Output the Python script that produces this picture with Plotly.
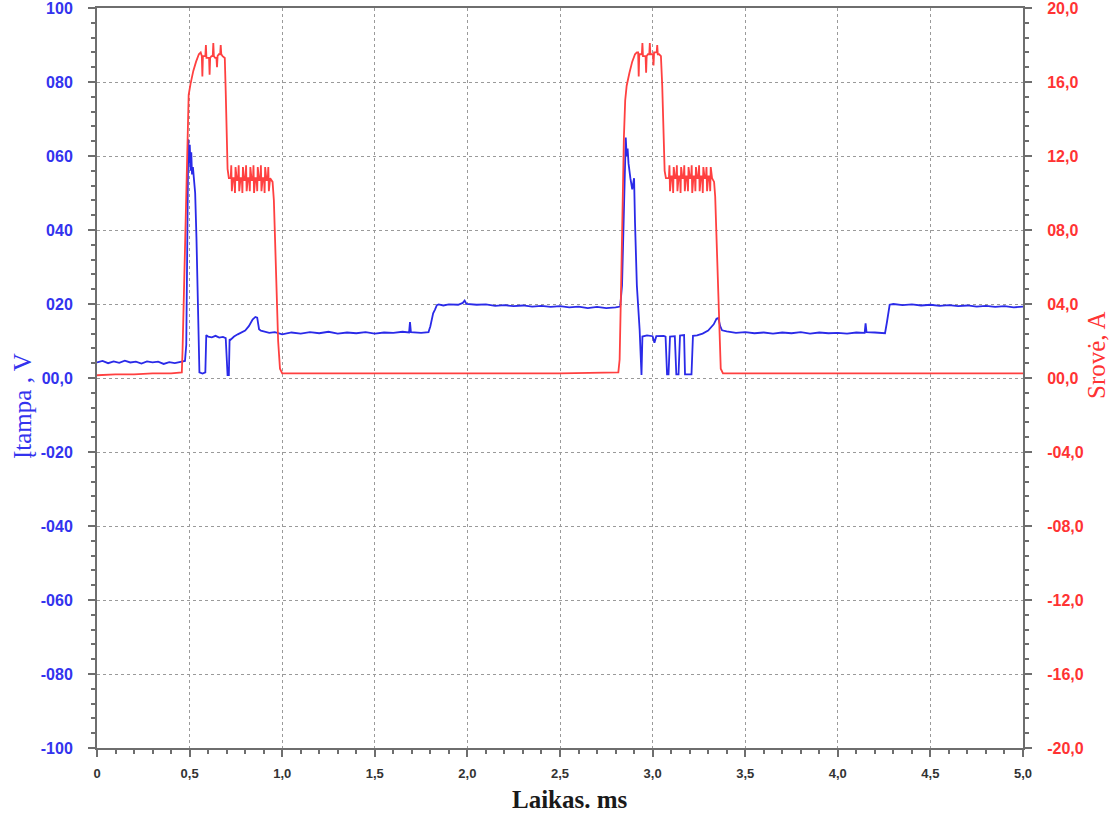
import plotly.graph_objects as go

# ---------------- data ----------------
volt_t = [0.00, 0.03, 0.06, 0.09, 0.12, 0.15, 0.18, 0.21, 0.24, 0.27, 0.30, 0.33, 0.36, 0.39, 0.42, 0.45, 0.475,
          0.482, 0.488, 0.493, 0.497, 0.501, 0.505, 0.509, 0.513, 0.518, 0.523, 0.53, 0.537, 0.543, 0.549, 0.553,
          0.57, 0.585, 0.59, 0.60, 0.62, 0.64, 0.66, 0.68, 0.695, 0.70, 0.705, 0.712, 0.716, 0.72, 0.74, 0.76,
          0.78, 0.80, 0.82, 0.84, 0.855, 0.865, 0.875, 0.885, 0.90, 0.93, 0.96, 1.00, 1.05, 1.10, 1.15, 1.20,
          1.25, 1.30, 1.35, 1.40, 1.45, 1.50, 1.55, 1.60, 1.65, 1.685, 1.69, 1.695, 1.75, 1.79, 1.80, 1.815,
          1.825, 1.835, 1.845, 1.87, 1.90, 1.95, 1.975, 1.985, 1.995, 2.05, 2.10, 2.15, 2.20, 2.25, 2.30, 2.35,
          2.40, 2.45, 2.50, 2.55, 2.60, 2.65, 2.70, 2.75, 2.80, 2.825, 2.835, 2.845, 2.855, 2.86, 2.865, 2.87,
          2.875, 2.88, 2.89, 2.90, 2.905, 2.915, 2.93, 2.935, 2.94, 2.945, 2.97, 3.00, 3.01, 3.02, 3.06, 3.07,
          3.078, 3.086, 3.094, 3.12, 3.128, 3.14, 3.148, 3.17, 3.175, 3.21, 3.218, 3.24, 3.27, 3.30, 3.33,
          3.345, 3.355, 3.365, 3.375, 3.40, 3.45, 3.50, 3.55, 3.60, 3.65, 3.70, 3.75, 3.80, 3.85, 3.90, 3.95,
          4.00, 4.05, 4.10, 4.145, 4.15, 4.155, 4.20, 4.255, 4.265, 4.28, 4.30, 4.35, 4.40, 4.45, 4.50, 4.55,
          4.60, 4.65, 4.70, 4.75, 4.80, 4.85, 4.90, 4.95, 5.00]
volt_v = [4.2, 4.6, 4.0, 4.5, 4.1, 4.7, 4.2, 4.4, 3.9, 4.5, 4.2, 4.4, 3.8, 4.3, 4.0, 4.4, 4.6,
          9.0, 35.0, 64.5, 58.0, 63.0, 56.0, 61.0, 55.0, 57.0, 54.0, 50.0, 38.0, 22.0, 8.0, 1.5,
          1.2, 1.5, 11.6, 11.2, 11.0, 11.4, 10.9, 11.1, 10.8, 6.0, 0.8, 0.8, 10.5, 10.3, 11.2, 11.8,
          12.2, 12.8, 14.0, 15.8, 16.5, 16.3, 13.2, 12.8, 12.6, 12.2, 12.4, 11.8, 12.3, 12.0, 12.4, 12.1,
          12.5, 12.0, 12.3, 12.1, 12.4, 12.0, 12.3, 12.2, 12.5, 12.3, 15.1, 12.4, 12.2, 12.4, 14.0, 17.5,
          18.5, 19.7, 19.9, 19.6, 19.9, 19.8, 20.3, 20.9, 20.0, 19.8, 19.9, 19.5, 19.7, 19.4, 19.6, 19.3,
          19.5, 19.2, 19.4, 19.1, 19.3, 18.9, 19.2, 18.9, 19.1, 19.3, 25.0, 45.0, 65.0, 60.0, 62.0, 58.0,
          55.0, 54.0, 51.0, 54.0, 42.0, 25.0, 13.0, 4.0, 0.8, 11.2, 11.5, 11.3, 9.5, 11.3, 11.4, 11.2,
          1.0, 1.0, 11.2, 11.3, 1.0, 1.0, 11.5, 11.6, 1.0, 1.0, 11.4, 11.5, 12.0, 12.8, 14.5,
          16.0, 16.2, 14.0, 12.9, 12.6, 12.2, 12.4, 12.1, 12.3, 12.0, 12.3, 12.1, 12.4, 12.0, 12.3, 12.1,
          12.2, 12.0, 12.3, 12.2, 14.8, 12.4, 12.3, 12.1, 15.0, 19.8, 20.0, 19.7, 19.9, 19.6, 19.8, 19.5,
          19.7, 19.4, 19.6, 19.3, 19.5, 19.2, 19.4, 19.1, 19.3]

curr_t = [0.00, 0.10, 0.20, 0.30, 0.40, 0.458, 0.462, 0.470, 0.478, 0.485, 0.490, 0.495, 0.505, 0.52, 0.535,
          0.55, 0.56, 0.566, 0.569, 0.572, 0.578, 0.585, 0.588, 0.591, 0.598, 0.605, 0.608, 0.611, 0.618,
          0.625, 0.628, 0.631, 0.638, 0.645, 0.648, 0.651, 0.658, 0.665, 0.668, 0.671, 0.678, 0.69, 0.695,
          0.70, 0.705, 0.712, 0.722, 0.725, 0.728, 0.735, 0.742, 0.745, 0.748, 0.755, 0.762, 0.765, 0.768,
          0.775, 0.782, 0.785, 0.788, 0.795, 0.802, 0.805, 0.808, 0.815, 0.822, 0.825, 0.828, 0.835, 0.842,
          0.845, 0.848, 0.855, 0.862, 0.865, 0.868, 0.875, 0.882, 0.885, 0.888, 0.895, 0.902, 0.905, 0.908,
          0.915, 0.922, 0.925, 0.928, 0.935, 0.942, 0.948, 0.955, 0.962, 0.97, 0.978, 0.988, 1.00, 1.50,
          2.00, 2.50, 2.815,
          2.822, 2.83, 2.838, 2.845, 2.852, 2.86, 2.875, 2.89, 2.905, 2.915, 2.922, 2.925, 2.928, 2.935,
          2.942, 2.945, 2.948, 2.955, 2.962, 2.965, 2.968, 2.975, 2.982, 2.985, 2.988, 2.995, 3.002, 3.005,
          3.008, 3.015, 3.022, 3.025, 3.028, 3.035, 3.045, 3.052, 3.058, 3.065, 3.072, 3.08, 3.088, 3.091,
          3.094, 3.101, 3.108, 3.111, 3.114, 3.121, 3.128, 3.131, 3.134, 3.141, 3.148, 3.151, 3.154, 3.161,
          3.168, 3.171, 3.174, 3.181, 3.188, 3.191, 3.194, 3.201, 3.208, 3.211, 3.214, 3.221, 3.228, 3.231,
          3.234, 3.241, 3.248, 3.251, 3.254, 3.261, 3.268, 3.271, 3.274, 3.281, 3.288, 3.291, 3.294, 3.301,
          3.308, 3.311, 3.314, 3.321, 3.328, 3.332, 3.338, 3.345, 3.352, 3.36, 3.368, 3.38, 4.00, 5.00]
curr_a = [0.15, 0.2, 0.2, 0.25, 0.25, 0.3, 1.5, 5.0, 9.0, 12.5, 14.5, 15.3, 15.9, 16.6, 17.1,
          17.5, 17.6, 17.4, 16.3, 17.4, 17.4, 17.4, 18.0, 17.3, 17.3, 17.3, 16.4, 17.3, 17.4,
          17.4, 18.1, 17.4, 17.3, 17.3, 16.8, 17.4, 17.5, 17.5, 18.0, 17.5, 17.4, 17.3, 15.5,
          13.0, 11.3, 10.8, 10.8, 11.5, 10.1, 10.8, 10.8, 10.0, 11.4, 10.7, 10.7, 11.5, 10.1,
          10.8, 10.8, 10.0, 11.4, 10.7, 10.7, 11.5, 10.1, 10.8, 10.8, 10.1, 11.4, 10.7, 10.7,
          11.5, 10.0, 10.8, 10.8, 10.1, 11.4, 10.7, 10.7, 11.5, 10.1, 10.8, 10.8, 10.0, 11.4,
          10.7, 10.7, 11.4, 10.1, 10.8, 10.7, 10.6, 9.6, 7.5, 4.5, 2.0, 0.5, 0.25, 0.25,
          0.25, 0.25, 0.3,
          1.0, 5.0, 9.5, 13.0, 15.0, 15.8, 16.5, 17.1, 17.5, 17.6, 17.6, 16.3, 17.5, 17.5,
          17.5, 18.1, 17.4, 17.4, 17.4, 16.5, 17.4, 17.5, 17.5, 18.1, 17.5, 17.5, 17.5, 16.9,
          17.6, 17.6, 17.6, 18.0, 17.5, 17.5, 17.4, 15.8, 13.0, 11.2, 10.8, 10.8, 10.8, 11.5,
          10.1, 10.9, 10.9, 10.0, 11.4, 10.8, 10.8, 11.5, 10.1, 10.9, 10.9, 10.0, 11.4, 10.8,
          10.8, 11.5, 10.1, 10.9, 10.9, 10.1, 11.4, 10.8, 10.8, 11.5, 10.0, 10.9, 10.9, 10.1,
          11.4, 10.8, 10.8, 11.5, 10.1, 10.9, 10.9, 10.0, 11.4, 10.8, 10.8, 11.4, 10.1, 10.9,
          10.9, 10.1, 11.4, 10.8, 10.7, 10.6, 9.8, 7.5, 4.5, 2.0, 0.5, 0.25, 0.25, 0.25]

x_ticks = [0, 0.5, 1.0, 1.5, 2.0, 2.5, 3.0, 3.5, 4.0, 4.5, 5.0]
x_labels = ["0", "0,5", "1,0", "1,5", "2,0", "2,5", "3,0", "3,5", "4,0", "4,5", "5,0"]
v_ticks = [100, 80, 60, 40, 20, 0, -20, -40, -60, -80, -100]
v_labels = ["100", "080", "060", "040", "020", "00,0", "-020", "-040", "-060", "-080", "-100"]
a_ticks = [20, 16, 12, 8, 4, 0, -4, -8, -12, -16, -20]
a_labels = ["20,0", "16,0", "12,0", "08,0", "04,0", "00,0", "-04,0", "-08,0", "-12,0", "-16,0", "-20,0"]

BLUE = "#2a2ae8"
RED = "#ff4040"
AXIS = "#6e6e6e"
GRID = "#9a9a9a"

fig = go.Figure()
fig.add_trace(go.Scatter(x=curr_t, y=curr_a, mode="lines", yaxis="y2",
                         line=dict(color=RED, width=1.8), showlegend=False))
fig.add_trace(go.Scatter(x=volt_t, y=volt_v, mode="lines", yaxis="y",
                         line=dict(color=BLUE, width=1.8), showlegend=False))

fig.update_layout(
    width=1112, height=814,
    margin=dict(l=97, r=89, t=8, b=66),
    paper_bgcolor="white", plot_bgcolor="white",
    xaxis=dict(range=[0, 5], tickmode="array", tickvals=x_ticks, automargin=False,
               ticktext=["<b>%s</b>" % s for s in x_labels], ticklabeloverflow="allow",
               tickfont=dict(family="Liberation Sans, Arial", size=13, color="#333333"),
               showline=True, linecolor=AXIS, linewidth=2, mirror=True,
               ticks="outside", ticklen=7, tickcolor=AXIS, tickwidth=1.5,
               ticklabelstandoff=5,
               minor=dict(tickmode="linear", tick0=0, dtick=0.1, ticks="outside", ticklen=4,
                          tickcolor=AXIS, showgrid=False),
               showgrid=True, gridcolor=GRID, griddash="dot", gridwidth=1, zeroline=False),
    yaxis=dict(range=[-100, 100], tickmode="array", tickvals=v_ticks, automargin=False,
               ticktext=["<b>%s</b>" % s for s in v_labels], ticklabeloverflow="allow",
               tickfont=dict(family="Liberation Sans, Arial", size=16, color="#3333ee"),
               showline=True, linecolor=AXIS, linewidth=2,
               ticks="outside", ticklen=7, tickcolor=AXIS, tickwidth=1.5,
               ticklabelstandoff=12,
               minor=dict(tickmode="linear", tick0=0, dtick=4, ticks="outside", ticklen=4,
                          tickcolor=AXIS, showgrid=False),
               showgrid=True, gridcolor=GRID, griddash="dot", gridwidth=1, zeroline=False),
    yaxis2=dict(range=[-20, 20], overlaying="y", side="right", tickmode="array", tickvals=a_ticks,
                automargin=False, ticklabeloverflow="allow",
                ticktext=["<b>%s</b>" % s for s in a_labels],
                tickfont=dict(family="Liberation Sans, Arial", size=16, color="#ff3333"),
                showline=True, linecolor=AXIS, linewidth=2,
                ticks="outside", ticklen=7, tickcolor=AXIS, tickwidth=1.5,
                ticklabelstandoff=12,
                minor=dict(tickmode="linear", tick0=0, dtick=0.8, ticks="outside", ticklen=4,
                           tickcolor=AXIS, showgrid=False),
                showgrid=False, zeroline=False),
    annotations=[
        dict(text="Įtampa , V", xref="paper", yref="paper", x=(22 - 97) / 926, y=(748 - 406) / 740,
             xanchor="center", yanchor="middle", textangle=-90, showarrow=False,
             font=dict(family="Liberation Serif, Times New Roman", size=25, color="#3333ee")),
        dict(text="Srovė, A", xref="paper", yref="paper", x=(1096 - 97) / 926, y=(748 - 355) / 740,
             xanchor="center", yanchor="middle", textangle=-90, showarrow=False,
             font=dict(family="Liberation Serif, Times New Roman", size=25, color="#ff3333")),
        dict(text="<b>Laikas. ms</b>", xref="paper", yref="paper", x=(570 - 97) / 926, y=(748 - 799) / 740,
             xanchor="center", yanchor="middle", showarrow=False,
             font=dict(family="Liberation Serif, Times New Roman", size=25, color="#1a1a1a")),
    ],
)

fig.write_html("out.html", config={"displayModeBar": False},
               post_script="document.body.style.margin='0';document.body.style.overflow='hidden';")
